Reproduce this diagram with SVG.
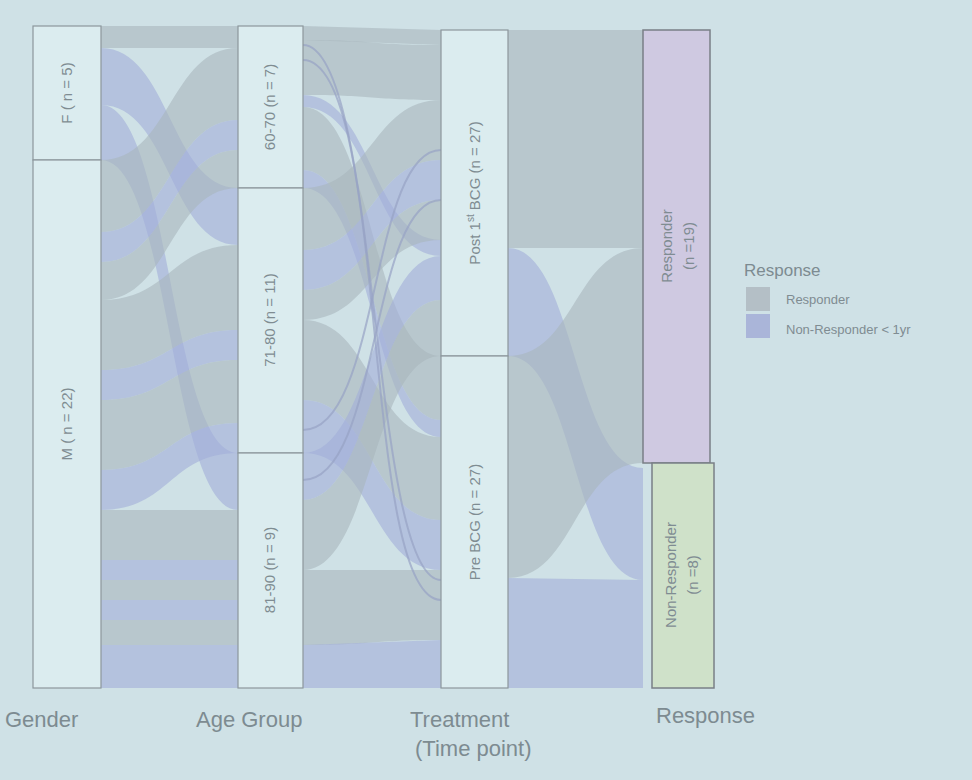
<svg xmlns="http://www.w3.org/2000/svg" width="972" height="780" viewBox="0 0 972 780">
<style>
.g{fill:#a9b5bd;fill-opacity:0.6}
.b{fill:#a2aed8;fill-opacity:0.6}
.ln{fill:none;stroke:#97a3c4;stroke-width:2;stroke-opacity:0.7}
.node{fill:#dbecef;stroke:#8c979c;stroke-width:1.2}
.lab{font-family:"Liberation Sans",Arial,sans-serif;font-size:15px;fill:#7f8c92;text-anchor:middle}
.ax{font-family:"Liberation Sans",Arial,sans-serif;font-size:22px;fill:#7d8b91}
.leg{font-family:"Liberation Sans",Arial,sans-serif;font-size:13px;fill:#7f8c92}
</style>
<rect width="972" height="780" fill="#cfe1e6"/>
<g id="connectors">
<!-- Gender to Age -->
<path class="g" d="M101 26 L238 26 L238 48 L101 48 Z"/>
<path class="b" d="M101 48 C170 48 170 188 238 188 L238 245 C170 245 170 105 101 105 Z"/>
<path class="b" d="M101 105 C170 105 170 453 238 453 L238 510 C170 510 170 160 101 160 Z"/>
<path class="g" d="M101 160 C170 160 170 48 238 48 L238 120 C170 120 170 232 101 232 Z"/>
<path class="b" d="M101 232 C170 232 170 120 238 120 L238 150 C170 150 170 262 101 262 Z"/>
<path class="g" d="M101 262 C170 262 170 150 238 150 L238 188 C170 188 170 300 101 300 Z"/>
<path class="g" d="M101 300 C170 300 170 245 238 245 L238 330 C170 330 170 370 101 370 Z"/>
<path class="b" d="M101 370 C170 370 170 330 238 330 L238 360 C170 360 170 400 101 400 Z"/>
<path class="g" d="M101 400 C170 400 170 360 238 360 L238 423 C170 423 170 470 101 470 Z"/>
<path class="b" d="M101 470 C170 470 170 423 238 423 L238 453 C170 453 170 510 101 510 Z"/>
<path class="g" d="M101 510 L238 510 L238 560 L101 560 Z"/>
<path class="b" d="M101 560 L238 560 L238 580 L101 580 Z"/>
<path class="g" d="M101 580 L238 580 L238 600 L101 600 Z"/>
<path class="b" d="M101 600 L238 600 L238 620 L101 620 Z"/>
<path class="g" d="M101 620 L238 620 L238 645 L101 645 Z"/>
<path class="b" d="M101 645 L238 645 L238 688 L101 688 Z"/>
<!-- Age to Treatment -->
<path class="g" d="M303 26 L441 30 L441 45 L303 40 Z"/>
<path class="g" d="M303 40 C372 40 372 45 441 45 L441 100 C372 100 372 95 303 95 Z"/>
<path class="b" d="M303 95 C372 95 372 240 441 240 L441 256 C372 256 372 107 303 107 Z"/>
<path class="g" d="M303 107 C372 107 372 356 441 356 L441 420 C372 420 372 170 303 170 Z"/>
<path class="b" d="M303 170 C372 170 372 420 441 420 L441 437 C372 437 372 188 303 188 Z"/>
<path class="g" d="M303 188 C372 188 372 100 441 100 L441 160 C372 160 372 250 303 250 Z"/>
<path class="b" d="M303 250 C372 250 372 160 441 160 L441 200 C372 200 372 290 303 290 Z"/>
<path class="g" d="M303 290 C372 290 372 200 441 200 L441 240 C372 240 372 320 303 320 Z"/>
<path class="g" d="M303 320 C372 320 372 437 441 437 L441 520 C372 520 372 400 303 400 Z"/>
<path class="b" d="M303 400 C372 400 372 520 441 520 L441 570 C372 570 372 453 303 453 Z"/>
<path class="b" d="M303 453 C372 453 372 256 441 256 L441 300 C372 300 372 500 303 500 Z"/>
<path class="g" d="M303 500 C372 500 372 300 441 300 L441 356 C372 356 372 570 303 570 Z"/>
<path class="g" d="M303 570 C372 570 372 570 441 570 L441 640 C372 640 372 645 303 645 Z"/>
<path class="b" d="M303 645 L441 640 L441 688 L303 688 Z"/>
<path class="ln" d="M303 45 C380 45 370 580 441 580"/>
<path class="ln" d="M303 60 C390 60 360 600 441 600"/>
<path class="ln" d="M303 430 C380 430 370 150 441 150"/>
<path class="ln" d="M303 480 C380 480 370 200 441 200"/>
<!-- Treatment to Response -->
<path class="g" d="M508 30 L643 30 L643 248 L508 248 Z"/>
<path class="b" d="M508 248 C575 248 575 468 643 468 L643 580 C575 580 575 356 508 356 Z"/>
<path class="g" d="M508 356 C575 356 575 248 643 248 L643 463 C575 463 575 578 508 578 Z"/>
<path class="b" d="M508 578 L643 580 L643 688 L508 688 Z"/>
</g>
<g id="gender-F"><rect class="node" x="33" y="26" width="68" height="134"/><text class="lab" transform="translate(72,93) rotate(-90)">F ( n = 5)</text></g>
<g id="gender-M"><rect class="node" x="33" y="160" width="68" height="528"/><text class="lab" transform="translate(72,424) rotate(-90)">M ( n = 22)</text></g>
<g id="age-60-70"><rect class="node" x="238" y="26" width="65" height="162"/><text class="lab" transform="translate(275,107) rotate(-90)">60-70 (n = 7)</text></g>
<g id="age-71-80"><rect class="node" x="238" y="188" width="65" height="265"/><text class="lab" transform="translate(275,320) rotate(-90)">71-80 (n = 11)</text></g>
<g id="age-81-90"><rect class="node" x="238" y="453" width="65" height="235"/><text class="lab" transform="translate(275,570) rotate(-90)">81-90 (n = 9)</text></g>
<g id="tp-post"><rect class="node" x="441" y="30" width="67" height="326"/><text class="lab" transform="translate(480,193) rotate(-90)">Post 1<tspan font-size="10" dy="-6">st</tspan><tspan dy="6"> BCG (n = 27)</tspan></text></g>
<g id="tp-pre"><rect class="node" x="441" y="356" width="67" height="332"/><text class="lab" transform="translate(480,522) rotate(-90)">Pre BCG (n = 27)</text></g>
<g id="resp-responder"><rect x="643" y="30" width="67" height="433" fill="#cfc9e1" stroke="#7a7f86" stroke-width="1.5"/><text class="lab" transform="translate(672,246) rotate(-90)">Responder</text><text class="lab" transform="translate(694,246) rotate(-90)">(n =19)</text></g>
<g id="resp-nonresponder"><rect x="652" y="463" width="62" height="225" fill="#cfe1c9" stroke="#7a7f86" stroke-width="1.5"/><text class="lab" transform="translate(676,575) rotate(-90)">Non-Responder</text><text class="lab" transform="translate(698,575) rotate(-90)">(n =8)</text></g>
<g id="axes">
<text class="ax" x="5" y="727">Gender</text>
<text class="ax" x="196" y="727">Age Group</text>
<text class="ax" x="410" y="727">Treatment</text>
<text class="ax" x="415" y="756">(Time point)</text>
<text class="ax" x="656" y="723">Response</text>
</g>
<g id="legend">
<text x="744" y="276" font-family="Liberation Sans,Arial,sans-serif" font-size="17" fill="#7d8b91">Response</text>
<rect x="746" y="287" width="24" height="24" fill="#b4bfc6"/>
<rect x="746" y="314" width="24" height="24" fill="#aab5d9"/>
<text class="leg" x="786" y="304">Responder</text>
<text class="leg" x="786" y="334">Non-Responder &lt; 1yr</text>
</g>
</svg>
